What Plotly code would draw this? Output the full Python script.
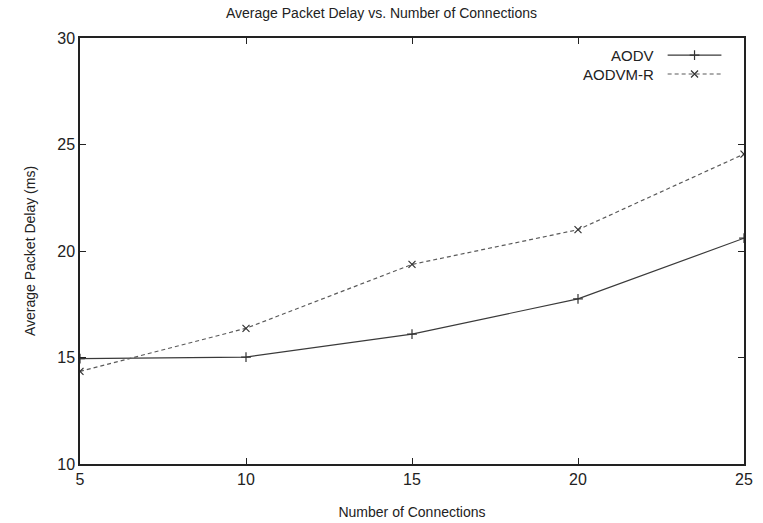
import plotly.graph_objects as go

# Number of connections vs. average packet delay (ms)
connections = [5, 10, 15, 20, 25]
aodv_delay = [14.95, 15.02, 16.1, 17.75, 20.6]
aodvmr_delay = [14.35, 16.37, 19.37, 21.0, 24.55]

series_names = ["AODV", "AODVM-R"]
x_ticks = [5, 10, 15, 20, 25]
y_ticks = [10, 15, 20, 25, 30]

FONT = "Liberation Sans, Arial, Helvetica, sans-serif"
INK = "#222222"

fig = go.Figure()

fig.add_trace(go.Scatter(
    x=connections, y=aodv_delay, mode="lines+markers", name=series_names[0],
    line=dict(color="#3a3a3a", width=1.2),
    marker=dict(symbol="cross-thin", size=7, line=dict(color="#333333", width=1.2)),
    showlegend=False,
))
fig.add_trace(go.Scatter(
    x=connections, y=aodvmr_delay, mode="lines+markers", name=series_names[1],
    line=dict(color="#5a5a5a", width=1.2, dash="4px,3px"),
    marker=dict(symbol="x-thin", size=7, line=dict(color="#333333", width=1.2)),
    showlegend=False,
))

# Key in the top-right corner: label on the left, line sample on the right
key_rows = [(0.960, "solid", "cross-thin", "#3a3a3a"),
            (0.9155, "4px,3px", "x-thin", "#5a5a5a")]
for name, (ky, dash, sym, col) in zip(series_names, key_rows):
    fig.add_trace(go.Scatter(
        x=[0.885, 0.966], y=[ky, ky], xaxis="x2", yaxis="y2", mode="lines",
        line=dict(color=col, width=1.2, dash=dash), showlegend=False, hoverinfo="skip",
    ))
    fig.add_trace(go.Scatter(
        x=[0.9255], y=[ky], xaxis="x2", yaxis="y2", mode="markers",
        marker=dict(symbol=sym, size=7, line=dict(color="#333333", width=1.2)),
        showlegend=False, hoverinfo="skip",
    ))
    fig.add_annotation(
        x=0.868, y=ky, xref="x2", yref="y2", text=name, showarrow=False,
        xanchor="right", yanchor="middle", font=dict(family=FONT, size=15, color=INK),
    )

axis_common = dict(
    showgrid=False, zeroline=False, showline=True, linecolor=INK, linewidth=1.5,
    mirror="allticks", ticks="inside", ticklen=6, tickcolor=INK, tickwidth=1,
    tickfont=dict(family=FONT, size=16, color=INK), automargin=False,
)

fig.update_layout(
    width=763, height=523,
    margin=dict(l=80, r=19, t=38, b=59),
    paper_bgcolor="white", plot_bgcolor="white",
    title=dict(text="Average Packet Delay vs. Number of Connections",
               x=0.5, xanchor="center", y=0.975, yanchor="middle",
               font=dict(family=FONT, size=14, color=INK)),
    xaxis=dict(range=[5, 25], tickvals=x_ticks,
               title=dict(text="Number of Connections", standoff=20,
                          font=dict(family=FONT, size=14, color=INK)),
               **axis_common),
    yaxis=dict(range=[10, 30], tickvals=y_ticks,
               title=dict(text="Average Packet Delay (ms)", standoff=18,
                          font=dict(family=FONT, size=14, color=INK)),
               **axis_common),
    xaxis2=dict(range=[0, 1], overlaying="x", visible=False, fixedrange=True),
    yaxis2=dict(range=[0, 1], overlaying="y", visible=False, fixedrange=True),
)

fig.write_html("out.html")
